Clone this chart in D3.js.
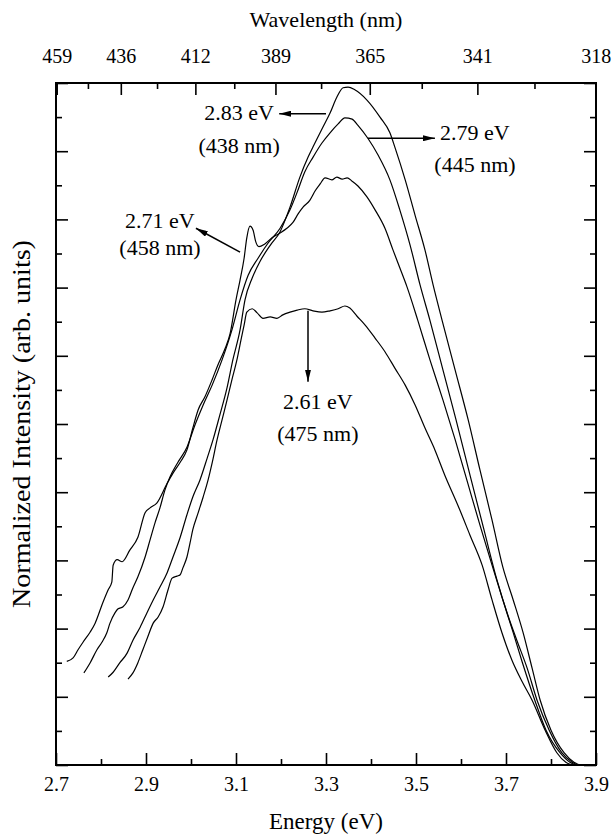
<!DOCTYPE html>
<html>
<head>
<meta charset="utf-8">
<script src="https://cdn.jsdelivr.net/npm/d3@7"></script>
<style>
    body { margin: 0; background: #fff; }
</style>
</head>
<body>
<div id="chart"></div>
<script>
// PLE spectra, [energy (eV), normalized intensity]
const pl283 = [[2.816,0.129],[2.827,0.136],[2.842,0.150],[2.858,0.164],[2.871,0.183],[2.887,0.202],[2.902,0.223],[2.916,0.242],[2.931,0.261],[2.947,0.282],[2.960,0.305],[2.976,0.334],[2.991,0.367],[3.004,0.393],[3.020,0.418],[3.036,0.450],[3.049,0.477],[3.064,0.513],[3.080,0.553],[3.093,0.594],[3.109,0.638],[3.120,0.682],[3.136,0.714],[3.153,0.738],[3.176,0.762],[3.198,0.782],[3.220,0.818],[3.242,0.862],[3.260,0.891],[3.271,0.906],[3.293,0.935],[3.309,0.956],[3.324,0.979],[3.338,0.993],[3.349,0.994],[3.364,0.990],[3.391,0.975],[3.420,0.950],[3.442,0.927],[3.453,0.906],[3.476,0.858],[3.498,0.806],[3.520,0.755],[3.538,0.704],[3.558,0.652],[3.587,0.579],[3.616,0.506],[3.642,0.433],[3.669,0.359],[3.693,0.290],[3.716,0.242],[3.738,0.194],[3.758,0.142],[3.776,0.095],[3.800,0.051],[3.829,0.018],[3.851,0.004],[3.864,0.000]];
const pl279 = [[2.762,0.135],[2.776,0.150],[2.791,0.169],[2.802,0.180],[2.813,0.194],[2.820,0.208],[2.831,0.223],[2.838,0.229],[2.849,0.232],[2.860,0.242],[2.871,0.260],[2.882,0.276],[2.898,0.305],[2.909,0.330],[2.920,0.355],[2.931,0.377],[2.942,0.403],[2.953,0.422],[2.971,0.444],[2.991,0.466],[3.009,0.499],[3.027,0.528],[3.047,0.557],[3.069,0.594],[3.091,0.638],[3.109,0.682],[3.127,0.718],[3.149,0.743],[3.171,0.765],[3.198,0.787],[3.220,0.814],[3.236,0.840],[3.253,0.870],[3.271,0.891],[3.291,0.912],[3.309,0.927],[3.327,0.940],[3.342,0.949],[3.358,0.947],[3.371,0.938],[3.393,0.919],[3.416,0.894],[3.442,0.858],[3.464,0.814],[3.487,0.762],[3.509,0.704],[3.531,0.652],[3.560,0.579],[3.589,0.506],[3.620,0.425],[3.651,0.345],[3.680,0.271],[3.704,0.220],[3.724,0.183],[3.747,0.142],[3.769,0.095],[3.796,0.051],[3.824,0.018],[3.847,0.004],[3.860,0.000]];
const pl271 = [[2.724,0.152],[2.738,0.157],[2.749,0.169],[2.760,0.180],[2.776,0.195],[2.787,0.208],[2.804,0.238],[2.816,0.257],[2.824,0.268],[2.827,0.293],[2.836,0.301],[2.847,0.298],[2.864,0.315],[2.882,0.334],[2.898,0.370],[2.909,0.377],[2.924,0.384],[2.947,0.413],[2.960,0.428],[2.976,0.444],[2.991,0.462],[3.004,0.494],[3.016,0.521],[3.031,0.540],[3.047,0.565],[3.060,0.587],[3.076,0.611],[3.087,0.633],[3.100,0.682],[3.109,0.711],[3.118,0.743],[3.124,0.773],[3.131,0.790],[3.138,0.784],[3.144,0.767],[3.151,0.760],[3.164,0.764],[3.180,0.773],[3.198,0.780],[3.213,0.787],[3.227,0.796],[3.238,0.808],[3.249,0.818],[3.264,0.828],[3.276,0.842],[3.287,0.852],[3.298,0.861],[3.313,0.858],[3.324,0.862],[3.336,0.859],[3.347,0.861],[3.358,0.856],[3.371,0.849],[3.391,0.833],[3.409,0.814],[3.431,0.787],[3.449,0.755],[3.464,0.729],[3.480,0.701],[3.504,0.652],[3.531,0.594],[3.560,0.535],[3.587,0.477],[3.616,0.411],[3.642,0.352],[3.669,0.293],[3.693,0.242],[3.716,0.194],[3.736,0.151],[3.764,0.095],[3.789,0.051],[3.820,0.018],[3.842,0.004],[3.856,0.000]];
const pl261 = [[2.860,0.126],[2.871,0.135],[2.882,0.150],[2.893,0.169],[2.904,0.188],[2.916,0.208],[2.927,0.217],[2.938,0.232],[2.949,0.257],[2.958,0.274],[2.969,0.277],[2.976,0.279],[2.982,0.289],[2.991,0.305],[2.998,0.326],[3.004,0.345],[3.016,0.370],[3.027,0.393],[3.038,0.418],[3.047,0.443],[3.058,0.477],[3.069,0.506],[3.080,0.535],[3.091,0.565],[3.102,0.594],[3.111,0.623],[3.118,0.645],[3.124,0.664],[3.136,0.669],[3.147,0.663],[3.160,0.655],[3.176,0.657],[3.191,0.655],[3.204,0.660],[3.220,0.664],[3.236,0.667],[3.253,0.669],[3.271,0.666],[3.291,0.664],[3.309,0.666],[3.327,0.669],[3.342,0.673],[3.353,0.670],[3.369,0.658],[3.387,0.645],[3.409,0.626],[3.431,0.606],[3.453,0.582],[3.476,0.557],[3.498,0.528],[3.520,0.494],[3.542,0.462],[3.564,0.425],[3.593,0.381],[3.620,0.337],[3.647,0.293],[3.669,0.242],[3.691,0.194],[3.713,0.154],[3.736,0.122],[3.758,0.095],[3.787,0.051],[3.813,0.018],[3.833,0.004],[3.847,0.000]];

const emissionEv = ["2.83 eV", "2.79 eV", "2.71 eV", "2.61 eV"];
const emissionNm = ["(438 nm)", "(445 nm)", "(458 nm)", "(475 nm)"];

const energyTicks = [2.7, 2.9, 3.1, 3.3, 3.5, 3.7, 3.9];
const energyMinor = [2.8, 3.0, 3.2, 3.4, 3.6, 3.8];
const nmTicks = [459, 436, 412, 389, 365, 341, 318];
const nmMinor = [447.5, 424, 400.5, 377, 353, 329.5];
const intensityTicks = [0, 0.1, 0.2, 0.3, 0.4, 0.5, 0.6, 0.7, 0.8, 0.9, 1.0];
const intensityMinor = [0.05, 0.15, 0.25, 0.35, 0.45, 0.55, 0.65, 0.75, 0.85, 0.95];

// where each callout sits, in data units (text centre / arrow tail -> head)
const callouts = [
    { text: [3.107, 0.946], tail: [3.300, 0.955], head: [3.196, 0.955] },
    { text: [3.631, 0.916], tail: [3.393, 0.919], head: [3.542, 0.919] },
    { text: [2.931, 0.788], tail: [3.109, 0.752], head: [3.011, 0.787] },
    { text: [3.282, 0.522], tail: [3.260, 0.666], head: [3.260, 0.562] },
];
const lineGap = [33, 32, 27, 32];

const width = 612, height = 836;
const margin = { top: 83, right: 16, bottom: 71, left: 56 };
const serif = "'Liberation Serif', 'Times New Roman', Times, 'DejaVu Serif', serif";

const svg = d3.select("#chart").append("svg")
    .attr("width", width)
    .attr("height", height)
    .attr("font-family", serif);

const x = d3.scaleLinear().domain([2.7, 3.9]).range([margin.left, width - margin.right]);
const y = d3.scaleLinear().domain([0, 1]).range([height - margin.bottom, margin.top]);

const hc = 1240;

function tidy(g) {
    g.attr("font-family", serif).attr("font-size", 20);
    g.select(".domain").remove();
    g.selectAll("line").attr("stroke", "#000").attr("stroke-width", 1.6);
    g.selectAll("text").attr("fill", "#000");
}

// bottom axis (energy)
svg.append("g")
    .attr("transform", "translate(0," + y(0) + ")")
    .call(d3.axisBottom(x).tickValues(energyTicks).tickSize(-12).tickPadding(12).tickFormat(d3.format(".1f")))
    .call(tidy);
svg.append("g")
    .attr("transform", "translate(0," + y(0) + ")")
    .call(d3.axisBottom(x).tickValues(energyMinor).tickSize(-6).tickFormat(""))
    .call(tidy);

// top axis (wavelength)
svg.append("g")
    .attr("transform", "translate(0," + y(1) + ")")
    .call(d3.axisTop(x).tickValues(nmTicks.map(d => hc / d)).tickSize(-12).tickPadding(20)
        .tickFormat((d, i) => nmTicks[i]))
    .call(tidy);
svg.append("g")
    .attr("transform", "translate(0," + y(1) + ")")
    .call(d3.axisTop(x).tickValues(nmMinor.map(d => hc / d)).tickSize(-6).tickFormat(""))
    .call(tidy);

// left and right axes, no labels
[[d3.axisLeft, x(2.7)], [d3.axisRight, x(3.9)]].forEach(([ax, pos]) => {
    svg.append("g").attr("transform", "translate(" + pos + ",0)")
        .call(ax(y).tickValues(intensityTicks).tickSize(-12).tickFormat(""))
        .call(tidy);
    svg.append("g").attr("transform", "translate(" + pos + ",0)")
        .call(ax(y).tickValues(intensityMinor).tickSize(-6).tickFormat(""))
        .call(tidy);
});

// frame
svg.append("rect")
    .attr("x", x(2.7))
    .attr("y", y(1))
    .attr("width", x(3.9) - x(2.7))
    .attr("height", y(0) - y(1))
    .attr("fill", "none")
    .attr("stroke", "#000")
    .attr("stroke-width", 2);

// curves
const line = d3.line()
    .x(d => x(d[0]))
    .y(d => y(d[1]))
    .curve(d3.curveMonotoneX);

[pl283, pl279, pl271, pl261].forEach(s => {
    svg.append("path")
        .datum(s)
        .attr("d", line)
        .attr("fill", "none")
        .attr("stroke", "#000")
        .attr("stroke-width", 1.2);
});

// arrows + labels
svg.append("defs").append("marker")
    .attr("id", "arr")
    .attr("viewBox", "0 0 12 6")
    .attr("refX", 12)
    .attr("refY", 3)
    .attr("markerWidth", 12)
    .attr("markerHeight", 6)
    .attr("markerUnits", "userSpaceOnUse")
    .attr("orient", "auto")
    .append("path")
    .attr("d", "M0,0L12,3L0,6Z")
    .attr("fill", "#000");

callouts.forEach((c, i) => {
    svg.append("line")
        .attr("x1", x(c.tail[0])).attr("y1", y(c.tail[1]))
        .attr("x2", x(c.head[0])).attr("y2", y(c.head[1]))
        .attr("stroke", "#000")
        .attr("stroke-width", 1.5)
        .attr("marker-end", "url(#arr)");
    const t = svg.append("text")
        .attr("text-anchor", "middle")
        .attr("font-size", 22);
    t.append("tspan").attr("x", x(c.text[0])).attr("y", y(c.text[1])).text(emissionEv[i]);
    t.append("tspan").attr("x", x(c.text[0])).attr("y", y(c.text[1]) + lineGap[i]).text(emissionNm[i]);
});

// axis titles
svg.append("text")
    .attr("x", (x(2.7) + x(3.9)) / 2)
    .attr("y", 829)
    .attr("text-anchor", "middle")
    .attr("font-size", 23)
    .text("Energy (eV)");

svg.append("text")
    .attr("x", (x(2.7) + x(3.9)) / 2)
    .attr("y", 27)
    .attr("text-anchor", "middle")
    .attr("font-size", 22)
    .text("Wavelength (nm)");

svg.append("text")
    .attr("transform", "translate(30," + (y(0) + y(1)) / 2 + ")rotate(-90)scale(1.08,1)")
    .attr("text-anchor", "middle")
    .attr("font-size", 26)
    .text("Normalized Intensity (arb. units)");
</script>
</body>
</html>
